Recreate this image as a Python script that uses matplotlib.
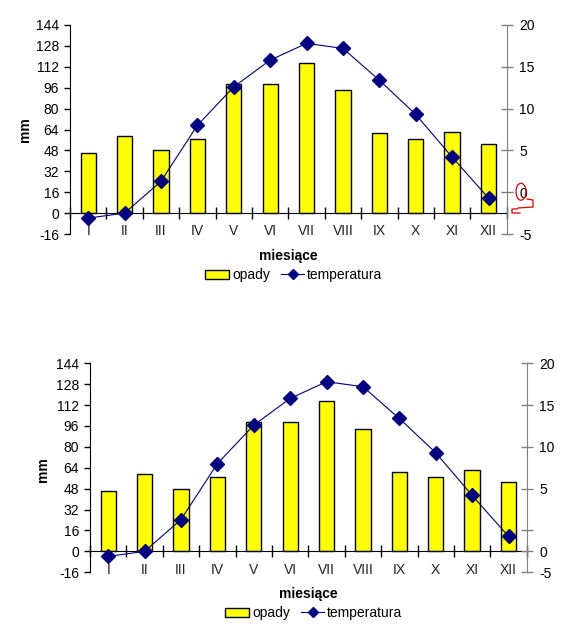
import numpy as np
import matplotlib.pyplot as plt
from matplotlib.patches import Patch, Ellipse
from matplotlib.lines import Line2D

plt.rcParams['font.family'] = ['Liberation Sans', 'DejaVu Sans']

# data
months = ['I', 'II', 'III', 'IV', 'V', 'VI', 'VII', 'VIII', 'IX', 'X', 'XI', 'XII']
opady = [46, 59, 48, 57, 99, 99, 115, 94, 61, 57, 62, 53]
temperatura = [-3.1, -2.5, 1.3, 8.0, 12.6, 15.8, 17.8, 17.2, 13.4, 9.3, 4.2, -0.7]
left_ticks = list(range(-16, 145, 16))
right_ticks_top = [-5, 0, 5, 10, 15, 20]
right_ticks_bottom = [-5, -2.5, 0, 5, 10, 15, 20]
right_labels_bottom = ['-5', '0', '', '5', '10', '15', '20']

W, H = 588, 638
fig = plt.figure(figsize=(W / 100, H / 100), dpi=100)

navy = '#000080'
fs = 10


def chart(rect, rticks, rlabels):
    ax = fig.add_axes(rect)
    x = np.arange(len(months))
    ax.bar(x, opady, width=0.42, color='#ffff00', edgecolor='black', linewidth=1, zorder=2)
    ax.set_xlim(-0.5, len(months) - 0.5)
    ax.set_ylim(-16, 144)
    ax.set_yticks(left_ticks)
    ax.set_yticklabels([str(t) for t in left_ticks])
    ax.tick_params(axis='y', direction='out', length=4, width=1, pad=4, labelsize=fs)
    ax.spines['top'].set_visible(False)
    ax.spines['right'].set_visible(False)
    ax.spines['bottom'].set_position(('data', 0))
    ax.spines['bottom'].set_zorder(3)
    ax.set_xticks(np.arange(-0.5, len(months), 1.0))
    ax.set_xticklabels([])
    ax.tick_params(axis='x', which='major', direction='inout', length=8, width=1)
    ax.set_xticks(x, minor=True)
    ax.set_xticklabels(months, minor=True)
    ax.tick_params(axis='x', which='minor', length=0, pad=8, labelsize=fs, labelcolor='#222222')

    ax2 = ax.twinx()
    ax2.plot(x, temperatura, color=navy, linewidth=0.8, marker='D', markersize=7,
             markerfacecolor=navy, markeredgecolor=navy, zorder=4)
    ax2.set_ylim(-5, 20)
    ax2.set_yticks(rticks)
    ax2.set_yticklabels(rlabels)
    for s in ['top', 'left', 'bottom']:
        ax2.spines[s].set_visible(False)
    ax2.spines['right'].set_color('#808080')
    ax2.tick_params(axis='y', direction='inout', length=8, width=1, color='#808080',
                    pad=5, labelsize=fs)
    return ax, ax2


# upper chart
ax_t, ax2_t = chart([70 / W, 1 - 234 / H, 436.7 / W, 209 / H],
                    right_ticks_top, [str(t) for t in right_ticks_top])
fig.text(25 / W, 1 - 130 / H, 'mm', rotation=90, ha='center', va='center',
         fontsize=fs, fontweight='bold')
fig.text(288 / W, 1 - 256 / H, 'miesiące', ha='center', va='center',
         fontsize=fs, fontweight='bold')

# lower chart
ax_b, ax2_b = chart([90 / W, 1 - 572.3 / H, 436.7 / W, 209 / H],
                    right_ticks_bottom, right_labels_bottom)
fig.text(43 / W, 1 - 470 / H, 'mm', rotation=90, ha='center', va='center',
         fontsize=fs, fontweight='bold')
fig.text(308 / W, 1 - 594 / H, 'miesiące', ha='center', va='center',
         fontsize=fs, fontweight='bold')

handles = [Patch(facecolor='#ffff00', edgecolor='black', linewidth=1),
           Line2D([], [], color=navy, linewidth=0.8, marker='D', markersize=5,
                  markerfacecolor=navy)]
names = ['opady', 'temperatura']
for cx, cy in [(294, 275), (314, 613)]:
    fig.legend(handles, names, loc='center', bbox_to_anchor=(cx / W, 1 - cy / H),
               ncol=2, frameon=False, fontsize=fs, handlelength=1.7,
               handleheight=0.6, handletextpad=0.2, columnspacing=0.8)

# red hand-drawn correction on the upper chart
fig.add_artist(Ellipse((521 / W, 1 - 191.7 / H), 10 / W, 17 / H, fill=False,
                       edgecolor='#dd0000', linewidth=0.9, transform=fig.transFigure))
px = [527, 533, 533, 518, 517, 512, 512, 520]
py = [199, 200, 207, 208, 209, 209, 213, 213]
fig.add_artist(Line2D([p / W for p in px], [1 - p / H for p in py], color='#dd0000',
                      linewidth=0.9, transform=fig.transFigure))

fig.savefig('out.png', dpi=100)
